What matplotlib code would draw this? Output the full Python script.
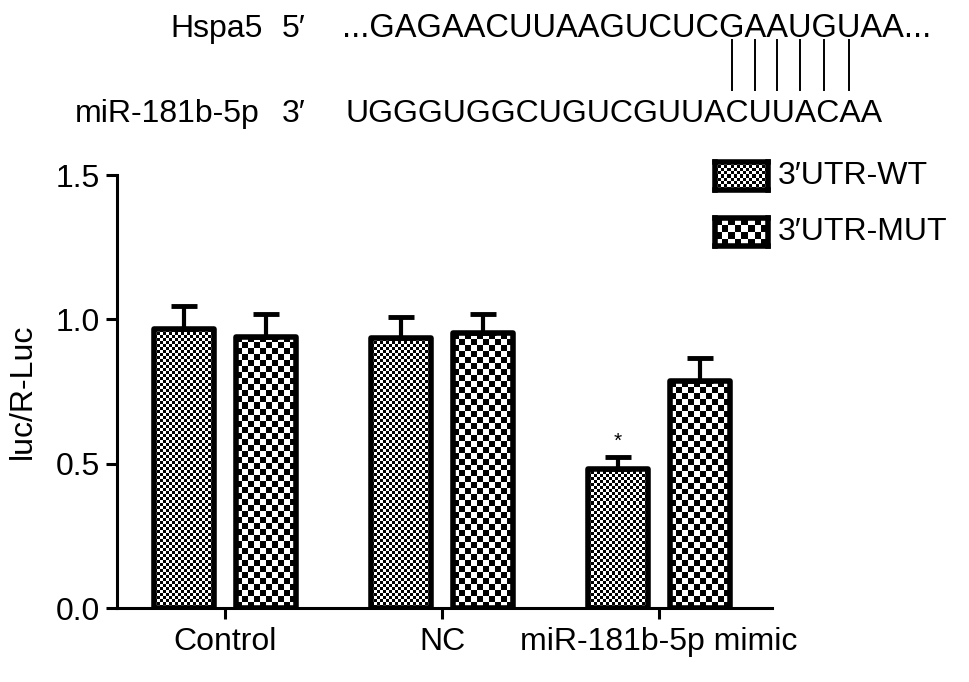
import numpy as np
import matplotlib
matplotlib.use('Agg')
import matplotlib.pyplot as plt

plt.rcParams['font.family'] = ['Liberation Sans', 'DejaVu Sans']

# data
groups = ['Control', 'NC', 'miR-181b-5p mimic']
series = ['3\u2032UTR-WT', '3\u2032UTR-MUT']
wt_vals = [0.966, 0.934, 0.483]
wt_err = [0.080, 0.073, 0.040]
mut_vals = [0.940, 0.952, 0.786]
mut_err = [0.078, 0.066, 0.080]
star_labels = ['', '', '*']

hspa5_seq = '...GAGAACUUAAGUCUCGAAUGUAA...'
mir_seq = 'UGGGUGGCUGUCGUUACUUACAA'
paired = [18, 19, 20, 21, 22, 23]   # positions in hspa5_seq with a base pair

FS = 23
SFS = 23.5

fig = plt.figure(figsize=(9.69, 6.82), dpi=100)
ax = fig.add_axes([117/969, 1-608/682, 655/969, (608-175)/682])

x = np.arange(len(groups))
width = 0.276
off = 0.189
ax.set_xlim(-0.498, 2.52)
ax.set_ylim(0, 1.5)


def checker_fill(ax, bar, cell):
    # fill a bar with a checkerboard texture, cell size in pixels
    fig.canvas.draw()
    x0 = bar.get_x()
    x1 = x0 + bar.get_width()
    y1 = bar.get_height()
    p0 = ax.transData.transform((x0, 0))
    p1 = ax.transData.transform((x1, y1))
    nx = max(1, int(round((p1[0]-p0[0]) / cell)))
    ny = max(1, int(round((p1[1]-p0[1]) / cell)))
    arr = np.add.outer(np.arange(ny), np.arange(nx)) % 2
    im = ax.imshow(arr, cmap='gray', extent=[x0, x1, 0, y1], interpolation='nearest',
                   aspect='auto', zorder=2, vmin=0, vmax=1)
    im.set_clip_path(bar)


bars_wt = ax.bar(x - off, wt_vals, width, facecolor='none', edgecolor='black',
                 linewidth=4, zorder=3, joinstyle='round')
bars_mut = ax.bar(x + off, mut_vals, width, facecolor='none', edgecolor='black',
                  linewidth=4, zorder=3, joinstyle='round')
for b in bars_wt:
    checker_fill(ax, b, 3)
for b in bars_mut:
    checker_fill(ax, b, 6)
ax.set_xlim(-0.498, 2.52)
ax.set_ylim(0, 1.5)

ax.errorbar(x - off, wt_vals, yerr=[np.zeros(3), wt_err], fmt='none', ecolor='black',
            elinewidth=3, capsize=9.5, capthick=3.5, zorder=4)
ax.errorbar(x + off, mut_vals, yerr=[np.zeros(3), mut_err], fmt='none', ecolor='black',
            elinewidth=3, capsize=9.5, capthick=3.5, zorder=4)

for xi, v, e, s in zip(x - off, wt_vals, wt_err, star_labels):
    if s:
        ax.text(xi, v + e + 0.02, s, ha='center', va='bottom', fontsize=15)

for sp in ['top', 'right']:
    ax.spines[sp].set_visible(False)
for sp in ['left', 'bottom']:
    ax.spines[sp].set_linewidth(2.2)
ax.set_yticks([0.0, 0.5, 1.0, 1.5])
ax.set_yticklabels(['0.0', '0.5', '1.0', '1.5'])
ax.set_xticks(x)
ax.set_xticklabels(groups)
ax.tick_params(axis='both', direction='out', width=2.2, length=8, labelsize=FS, colors='black')
ax.tick_params(axis='y', pad=4)
ax.tick_params(axis='x', pad=6)
ax.set_ylabel('luc/R-Luc', fontsize=FS)
ax.yaxis.set_label_coords(-0.121, 0.5)

# legend drawn as two small textured boxes
for i, (lab, cell) in enumerate(zip(series, [3, 6])):
    top = 162 + i * 56
    lax = fig.add_axes([715/969, 1-(top+28)/682, 53/969, 28/682])
    nx = int(53 / cell)
    ny = int(28 / cell)
    arr = np.add.outer(np.arange(ny), np.arange(nx)) % 2
    lax.imshow(arr, cmap='gray', interpolation='nearest', aspect='auto')
    lax.set_xticks([])
    lax.set_yticks([])
    for sp in lax.spines.values():
        sp.set_linewidth(4)
    fig.text(778/969, 1-(top+14)/682, lab, fontsize=FS, va='center', ha='left')

# sequence alignment at the top
y_h = 1 - 37/682
y_m = 1 - 122/682
fig.text(170/969, y_h, 'Hspa5', fontsize=FS, va='baseline')
fig.text(282/969, y_h, '5\u2032', fontsize=FS, va='baseline')
fig.text(75/969, y_m, 'miR-181b-5p', fontsize=FS, va='baseline')
fig.text(282/969, y_m, '3\u2032', fontsize=FS, va='baseline')
seq_x = 342/969
fig.text(seq_x, y_h, hspa5_seq, fontsize=SFS, va='baseline')
fig.text(345/969, y_m, mir_seq, fontsize=23, va='baseline')

renderer = fig.canvas.get_renderer()
x0_px = seq_x * fig.bbox.width
for p in paired:
    t1 = fig.text(0, 0, hspa5_seq[:p], fontsize=SFS)
    t2 = fig.text(0, 0, hspa5_seq[:p+1], fontsize=SFS)
    w1 = t1.get_window_extent(renderer).width
    w2 = t2.get_window_extent(renderer).width
    t1.remove()
    t2.remove()
    xc = (x0_px + (w1 + w2) / 2) / fig.bbox.width
    fig.add_artist(plt.Line2D([xc, xc], [1-40/682, 1-90/682], color='black', linewidth=1.4))

fig.savefig('out.png', dpi=100)
